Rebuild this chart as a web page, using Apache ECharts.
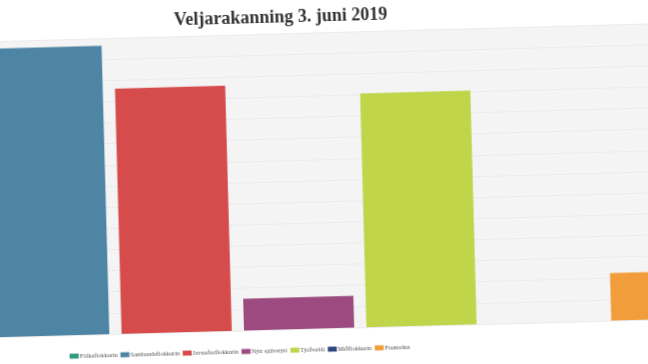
<!DOCTYPE html>
<html>
<head>
<meta charset="utf-8">
<script src="https://cdn.jsdelivr.net/npm/echarts@6/dist/echarts.min.js"></script>
<style>
html,body{margin:0;padding:0;background:#fff;width:648px;height:364px;overflow:hidden;position:relative;}
#c{position:absolute;left:-200px;top:-20px;width:960px;height:400px;transform-origin:200px 20px;transform:rotate(-1.55deg);background:#fff;}
</style>
</head>
<body>
<div id="c"></div>
<script>
const titleText = 'Veljarakanning 3. juni 2019';
const categories = ['Fólkaflokkurin','Sambandsflokkurin','Javnaðarflokkurin','Nýtt sjálvstýri','Tjóðveldi','Miðflokkurin','Framsókn'];
const values = [19.9, 27.3, 23.2, 3.0, 22.1, 0, 4.5];
const colors = ['#2f9a7c','#4e85a4','#d64b4b','#9c4a7f','#c0d54a','#2d4778','#f29d3b'];

const chart = echarts.init(document.getElementById('c'), null, {renderer:'canvas'});
chart.setOption({
  animation: false,
  backgroundColor: '#fff',
  title: {
    text: titleText, left: 'center', top: 31,
    textStyle: {fontFamily: 'Liberation Serif', fontWeight: 'bold', fontSize: 18, color: '#333'}
  },
  legend: {
    data: categories, left: 255, top: 370,
    itemWidth: 9, itemHeight: 5, itemGap: 3,
    icon: 'rect',
    textStyle: {fontFamily: 'Liberation Serif', fontSize: 6.3, color: '#555', padding: [0,0,0,-4]}
  },
  grid: {
    left: 61.5, top: 61, width: 857.2, height: 296,
    show: true, backgroundColor: '#f4f4f4', borderWidth: 0
  },
  xAxis: {
    type: 'category', data: categories,
    axisLabel: {show: false}, axisTick: {show: false}, axisLine: {show: false}
  },
  yAxis: {
    type: 'value', min: 0, max: 28, interval: 2,
    axisLabel: {show: false}, axisLine: {show: false}, axisTick: {show: false},
    splitLine: {lineStyle: {color: '#ebebeb', width: 1}}
  },
  series: categories.map((name, i) => ({
    name: name, type: 'bar', stack: 'all', barCategoryGap: '10%',
    data: categories.map((_, j) => j === i ? values[j] : null),
    itemStyle: {color: colors[i]}
  }))
});
</script>
</body>
</html>
